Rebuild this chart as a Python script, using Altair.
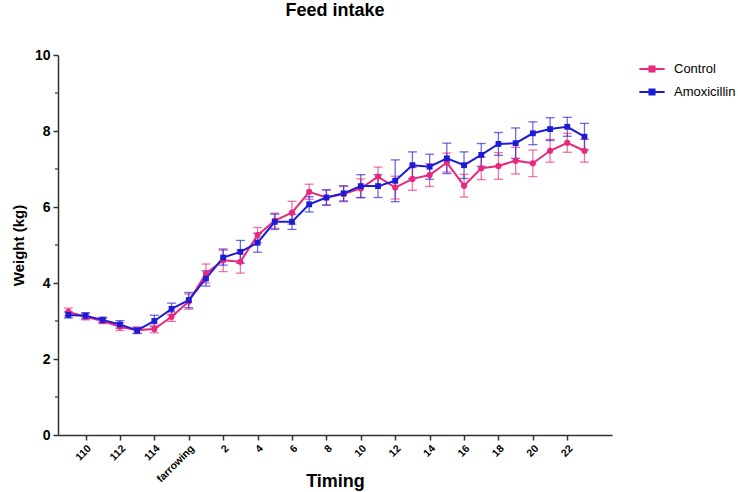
import altair as alt
import pandas as pd

# ---- data ----
timing = ["109", "110", "111", "112", "113", "114", "115", "farrowing",
          "1", "2", "3", "4", "5", "6", "7", "8", "9", "10", "11", "12",
          "13", "14", "15", "16", "17", "18", "19", "20", "21", "22", "23"]

control = [3.24, 3.11, 3.00, 2.85, 2.76, 2.79, 3.11, 3.51, 4.25, 4.60, 4.56,
           5.26, 5.64, 5.85, 6.40, 6.25, 6.34, 6.49, 6.80, 6.51, 6.74, 6.84,
           7.17, 6.56, 7.02, 7.08, 7.22, 7.15, 7.48, 7.69, 7.48]
control_err = [0.10, 0.08, 0.07, 0.10, 0.08, 0.10, 0.12, 0.20, 0.25, 0.30, 0.30,
               0.20, 0.20, 0.30, 0.20, 0.20, 0.20, 0.25, 0.25, 0.30, 0.30, 0.30,
               0.25, 0.30, 0.30, 0.35, 0.35, 0.35, 0.30, 0.25, 0.30]

amoxicillin = [3.16, 3.14, 3.03, 2.91, 2.75, 3.00, 3.32, 3.55, 4.12, 4.67, 4.82,
               5.06, 5.61, 5.61, 6.07, 6.25, 6.36, 6.55, 6.55, 6.69, 7.10, 7.06,
               7.28, 7.10, 7.37, 7.66, 7.68, 7.94, 8.05, 8.11, 7.85]
amoxicillin_err = [0.08, 0.08, 0.07, 0.10, 0.08, 0.15, 0.15, 0.20, 0.20, 0.20, 0.30,
                   0.25, 0.20, 0.20, 0.20, 0.20, 0.20, 0.30, 0.30, 0.55, 0.35, 0.33,
                   0.40, 0.35, 0.30, 0.30, 0.40, 0.30, 0.30, 0.25, 0.35]

series_names = ["Control", "Amoxicillin"]
series_colors = ["#e8287c", "#1c1cd6"]

tick_labels = ["110", "112", "114", "farrowing", "2", "4", "6", "8", "10",
               "12", "14", "16", "18", "20", "22"]
y_ticks = [0, 2, 4, 6, 8, 10]
y_minor_ticks = [1, 3, 5, 7, 9]

# ---- build table ----
rows = []
for name, vals, errs in [("Control", control, control_err),
                         ("Amoxicillin", amoxicillin, amoxicillin_err)]:
    for i, (t, v, e) in enumerate(zip(timing, vals, errs)):
        rows.append({"series": name, "idx": i, "timing": t, "value": v, "err": e})
df = pd.DataFrame(rows)

tick_positions = [timing.index(t) for t in tick_labels]
label_expr = "[" + ",".join("'" + t + "'" for t in tick_labels) + "][indexof([" + \
    ",".join(str(p) for p in tick_positions) + "], round(datum.value))]"

FONT = "Liberation Sans"

xscale = alt.Scale(domain=[-0.6, 31.6], nice=False, zero=False)
yscale = alt.Scale(domain=[0, 10], nice=False)
color = alt.Color("series:N",
                  scale=alt.Scale(domain=series_names, range=series_colors),
                  sort=series_names,
                  legend=alt.Legend(title=None, orient="none", legendX=581, legendY=1,
                                    labelFont=FONT, labelFontSize=13, labelLimit=300,
                                    symbolType="M-1,-0.08H1V0.08H-1Z M-0.28,-0.28H0.28V0.28H-0.28Z",
                                    symbolSize=640, symbolStrokeWidth=0,
                                    symbolOpacity=1, rowPadding=3, labelOffset=9))

xaxis = alt.Axis(values=tick_positions, labelExpr=label_expr, labelAngle=-45,
                 labelAlign="right", labelBaseline="top", labelFontSize=10.5,
                 labelFontWeight="bold", labelFont=FONT, labelPadding=3,
                 labelOverlap=False, labelBound=False, labelFlush=False,
                 tickSize=5, tickColor="#333", domainColor="#333", domainWidth=1.5,
                 tickWidth=1.5, grid=False, title="Timing", titleFont=FONT,
                 titleFontSize=18, titleFontWeight="bold", titleY=51,
                 titleBaseline="alphabetic")
yaxis = alt.Axis(values=y_ticks, labelFontSize=14, labelFontWeight="bold",
                 labelFont=FONT, tickSize=5, tickColor="#333", domainColor="#333",
                 domainWidth=1.5, tickWidth=1.5, grid=False, title="Weight (kg)",
                 titleFont=FONT, titleFontSize=15, titleFontWeight="bold",
                 titlePadding=8, labelPadding=3)

X = alt.X("idx:Q", scale=xscale, axis=xaxis)

def Y(field):
    return alt.Y(field, scale=yscale, axis=yaxis, title="Weight (kg)")

base = alt.Chart(df).transform_calculate(
    lo="datum.value - datum.err", hi="datum.value + datum.err")

bars = base.mark_rule(strokeWidth=1.3, opacity=0.65).encode(
    x=X, y=Y("lo:Q"), y2="hi:Q", color=color)
caps_lo = base.mark_tick(orient="horizontal", size=9, thickness=1.3, opacity=0.65).encode(
    x=X, y=Y("lo:Q"), color=color)
caps_hi = base.mark_tick(orient="horizontal", size=9, thickness=1.3, opacity=0.65).encode(
    x=X, y=Y("hi:Q"), color=color)

lines = base.mark_line(strokeWidth=2).encode(
    x=X, y=Y("value:Q"), color=color, detail="series:N")
points_c = base.transform_filter(alt.datum.series == "Control").mark_point(
    filled=True, size=38, opacity=1, shape="circle").encode(
    x=X, y=Y("value:Q"), color=color)
points_a = base.transform_filter(alt.datum.series == "Amoxicillin").mark_point(
    filled=True, size=34, opacity=1, shape="square").encode(
    x=X, y=Y("value:Q"), color=color)

minor = alt.Chart(pd.DataFrame({"v": y_minor_ticks})).mark_rule(
    color="#333", strokeWidth=1.2).encode(
    y=Y("v:Q"), x=alt.value(-3), x2=alt.value(0))

chart = alt.layer(bars, caps_lo, caps_hi, lines, points_c, points_a, minor).properties(
    width=554, height=380,
    title=alt.Title("Feed intake", font=FONT, fontSize=18, fontWeight="bold",
                    anchor="middle", offset=28),
    autosize=alt.AutoSizeParams(type="none"),
    padding={"left": 58, "top": 55, "right": 126, "bottom": 57},
).configure_view(stroke=None)

chart.save("out.html", embed_options={"renderer": "svg", "actions": False})
